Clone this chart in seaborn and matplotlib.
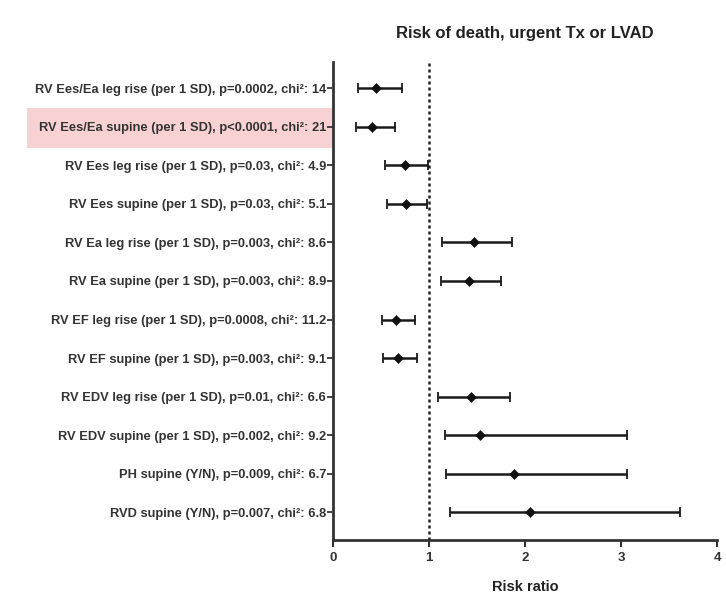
import numpy as np
import matplotlib
matplotlib.use("Agg")
import matplotlib.pyplot as plt
import seaborn as sns
from matplotlib.patches import Rectangle

# Forest plot data
labels = [
    "RV Ees/Ea leg rise (per 1 SD), p=0.0002, chi²: 14",
    "RV Ees/Ea supine (per 1 SD), p<0.0001, chi²: 21",
    "RV Ees leg rise (per 1 SD), p=0.03, chi²: 4.9",
    "RV Ees supine (per 1 SD), p=0.03, chi²: 5.1",
    "RV Ea leg rise (per 1 SD), p=0.003, chi²: 8.6",
    "RV Ea supine (per 1 SD), p=0.003, chi²: 8.9",
    "RV EF leg rise (per 1 SD), p=0.0008, chi²: 11.2",
    "RV EF supine (per 1 SD), p=0.003, chi²: 9.1",
    "RV EDV leg rise (per 1 SD), p=0.01, chi²: 6.6",
    "RV EDV supine (per 1 SD), p=0.002, chi²: 9.2",
    "PH supine (Y/N), p=0.009, chi²: 6.7",
    "RVD supine (Y/N), p=0.007, chi²: 6.8",
]
risk_ratio = [0.45, 0.41, 0.75, 0.76, 1.47, 1.42, 0.66, 0.68, 1.44, 1.53, 1.89, 2.05]
ci_low = [0.26, 0.24, 0.54, 0.56, 1.14, 1.12, 0.51, 0.52, 1.09, 1.17, 1.18, 1.22]
ci_high = [0.72, 0.65, 0.99, 0.98, 1.86, 1.75, 0.85, 0.88, 1.84, 3.06, 3.06, 3.61]

sns.set_style("ticks")
plt.rcParams["font.family"] = ["Liberation Sans", "DejaVu Sans"]

fig = plt.figure(figsize=(7.26, 6.04), dpi=100)
ax = fig.add_axes([333 / 726, 1 - 540 / 604, 384 / 726, 478 / 604])

ypos = np.arange(len(labels))
rr = np.array(risk_ratio)
xerr = [rr - np.array(ci_low), np.array(ci_high) - rr]

ax.errorbar(rr, ypos, xerr=xerr, fmt="none", ecolor="#1a1a1a",
            elinewidth=1.8, capsize=3.5, capthick=1.3, zorder=2)
sns.scatterplot(x=rr, y=ypos, ax=ax, color="#111111", marker="D", s=26,
                edgecolor="#111111", zorder=3)
ax.axvline(1, color="#222222", linestyle=(0, (1.2, 1.2)), linewidth=1.8, zorder=1)

ax.set_xlim(0, 4)
ax.set_ylim(len(labels) - 1 + 0.72, -0.68)
ax.set_xticks([0, 1, 2, 3, 4])
ax.set_yticks(ypos)
ax.set_yticklabels(labels, fontsize=9.3, fontweight="bold", color="#333333")
ax.tick_params(axis="x", labelsize=9.5, colors="#333333", length=5, width=1.5)
ax.tick_params(axis="y", length=4, width=1.2, pad=1)
for lab in ax.get_xticklabels():
    lab.set_fontweight("bold")

sns.despine(ax=ax)
ax.spines["left"].set_linewidth(2)
ax.spines["bottom"].set_linewidth(2)
ax.spines["left"].set_color("#333333")
ax.spines["bottom"].set_color("#333333")

ax.set_xlabel("Risk ratio", fontsize=10.5, fontweight="bold", color="#222222", labelpad=12)
ax.set_title("Risk of death, urgent Tx or LVAD", fontsize=12, fontweight="bold",
             color="#222222", pad=17)

# pink band behind the highlighted label
y_c = 1 - (128 / 604)
fig.patches.append(Rectangle((27 / 726, y_c - 20 / 604), (333 - 27) / 726, 40 / 604,
                             transform=fig.transFigure, facecolor="#f8d2d2",
                             edgecolor="none", zorder=-1))

fig.savefig("out.png", dpi=100)
